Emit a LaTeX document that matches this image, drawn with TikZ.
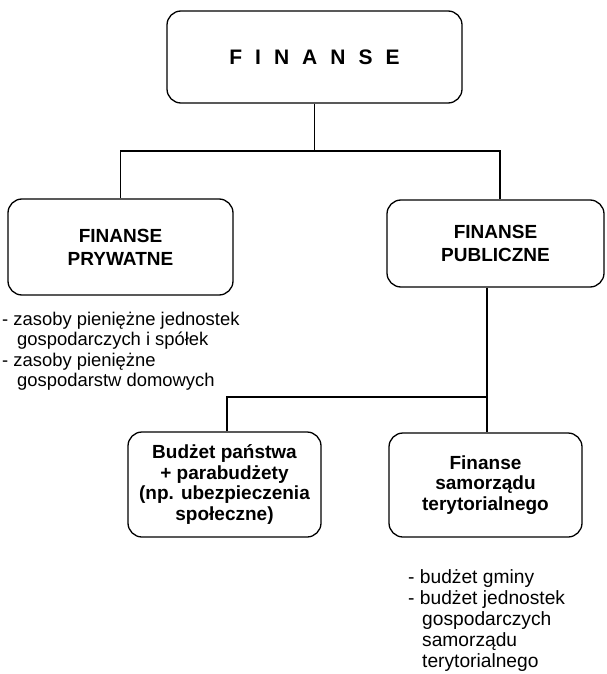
\documentclass[tikz,border=0pt]{standalone}
\usepackage{fontspec}
\setmainfont{Liberation Sans}
\begin{document}
\begin{tikzpicture}[x=1pt,y=-1pt,
  box/.style={draw, line width=1.3pt, rounded corners=14pt, inner sep=0pt, align=center,
    font=\bfseries\fontsize{19}{20.5}\selectfont},
  bigbox/.style={box, font=\bfseries\fontsize{19}{23}\selectfont},
  conn/.style={line width=1.2pt},
  listtext/.style={inner sep=0pt, align=left, anchor=north west}]
\useasboundingbox (0,0) rectangle (607,674);

\node[box, minimum width=295pt, minimum height=92pt, font=\bfseries\fontsize{21}{24}\selectfont]
  (top) at (314.5,57) {F\hspace{13pt}I\hspace{13pt}N\hspace{13pt}A\hspace{13pt}N\hspace{13pt}S\hspace{13pt}E};
\node[bigbox, minimum width=225pt, minimum height=96pt] (priv) at (120.5,247) {FINANSE\\PRYWATNE};
\node[bigbox, minimum width=217pt, minimum height=87pt] (pub) at (495.5,243.5) {FINANSE\\PUBLICZNE};
\node[box, minimum width=193pt, minimum height=105pt] (state) at (224.5,484.5)
  {Budżet państwa\\+ parabudżety\\(np. ubezpieczenia\\społeczne)};
\node[box, minimum width=193pt, minimum height=104pt] (local) at (485.5,485)
  {Finanse\\samorządu\\terytorialnego};

\coordinate (j1) at (314.5,151);
\coordinate (j2) at (487,397);
\draw[conn] (top.south) -- (j1);
\draw[conn] (priv.north) |- (j1) -| ([xshift=4.5pt]pub.north);
\draw[conn] ([xshift=-8.5pt]pub.south) -- ([xshift=1.5pt]local.north);
\draw[conn] ([xshift=2.5pt]state.north) |- (j2);

\node[listtext, font=\fontsize{18.4}{20.6}\selectfont] (privlist) at (2,311.5)
  {- zasoby pieniężne jednostek\\\hspace*{15pt}gospodarczych i spółek\\- zasoby pieniężne\\\hspace*{15pt}gospodarstw domowych};
\node[listtext, font=\fontsize{19.2}{21}\selectfont] (loclist) at (408,569)
  {- budżet gminy\\- budżet jednostek\\\hspace*{14pt}gospodarczych\\\hspace*{14pt}samorządu\\\hspace*{14pt}terytorialnego};
\end{tikzpicture}
\end{document}
